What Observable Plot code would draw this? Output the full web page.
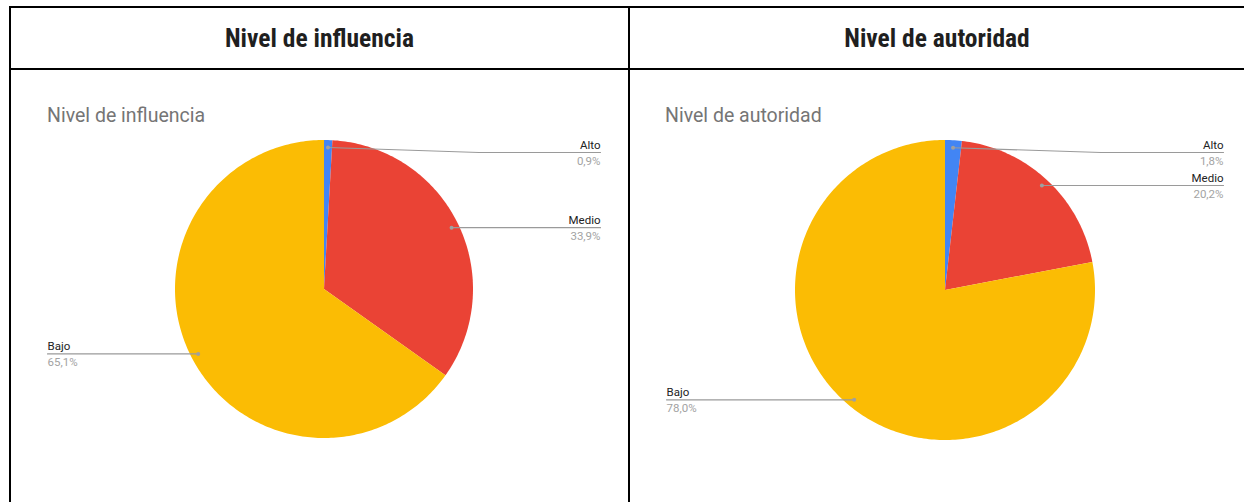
<!DOCTYPE html>
<html><head><meta charset="utf-8">
<script src="https://cdn.jsdelivr.net/npm/d3@7"></script>
<script src="https://cdn.jsdelivr.net/npm/@observablehq/plot@0.6"></script>
<style>
body{margin:0;background:#fff;width:1244px;height:502px;overflow:hidden;position:relative;font-family:Roboto,"Liberation Sans",sans-serif}
.rule{position:absolute;background:#000}
.head{position:absolute;top:8px;height:60px;display:flex;align-items:center;justify-content:center;font-family:"Liberation Sans Narrow","Roboto Condensed","Arial Narrow",sans-serif;font-stretch:condensed;font-weight:bold;font-size:25.5px;color:#1f1f1f}
.panel{position:absolute;top:70px;height:432px;overflow:hidden}
.ctitle{position:absolute;top:34px;font-size:19.5px;color:#757575;white-space:nowrap}
.panel svg{position:absolute;left:0;top:0;overflow:visible}
</style></head><body>
<script>
// ---- data ----
const categories = ["Alto", "Medio", "Bajo"];
const influencia = [0.9, 33.9, 65.1];
const autoridad = [1.8, 20.2, 78.0];
const headers = ["Nivel de influencia", "Nivel de autoridad"];
const chartTitles = ["Nivel de influencia", "Nivel de autoridad"];
const colors = ["#4285F4", "#EA4335", "#FBBC04"];

// ---- layout ----
const panels = [
  {left: 11, width: 617, cx: 312.5, cy: 218.5, r: 149, leftX: 36, rightX: 589, titleX: 36},
  {left: 631, width: 613, cx: 313.5, cy: 219.5, r: 150, leftX: 35, rightX: 592, titleX: 34}
];
const H = 432;

function rule(l, t, w, h) {
  const d = document.createElement("div");
  d.className = "rule";
  Object.assign(d.style, {left: l + "px", top: t + "px", width: w + "px", height: h + "px"});
  document.body.appendChild(d);
}
rule(9, 6, 1235, 2);
rule(9, 68, 1235, 2);
rule(9, 6, 2, 496);
rule(628, 6, 2, 496);

headers.forEach((h, i) => {
  const d = document.createElement("div");
  d.className = "head";
  d.style.left = (i === 0 ? 11 : 630) + "px";
  d.style.width = (i === 0 ? 617 : 614) + "px";
  d.textContent = h;
  document.body.appendChild(d);
});

const fmt = v => v.toFixed(1).replace(".", ",") + "%";

function build(values, g, title) {
  const total = d3.sum(values);
  const polys = [], dots = [], leaders = [], labels = [];
  let acc = 0;
  values.forEach((v, i) => {
    const cat = categories[i];
    const a0 = acc / total * 2 * Math.PI; acc += v;
    const a1 = acc / total * 2 * Math.PI;
    const n = Math.max(2, Math.ceil((a1 - a0) / (Math.PI / 180)));
    polys.push({x: g.cx, y: g.cy, cat});
    for (let k = 0; k <= n; k++) {
      const a = a0 + (a1 - a0) * k / n;
      polys.push({x: g.cx + g.r * Math.sin(a), y: g.cy - g.r * Math.cos(a), cat});
    }
    polys.push({x: g.cx, y: g.cy, cat});
    const am = (a0 + a1) / 2;
    const dx = g.cx + 0.95 * g.r * Math.sin(am);
    const dy = g.cy - 0.95 * g.r * Math.cos(am);
    const right = Math.sin(am) >= 0;
    const ly = Math.max(dy, g.cy - g.r + 12.5);
    const kx = g.cx + (right ? 1 : -1) * 1.04 * g.r;
    const ex = right ? g.rightX : g.leftX;
    dots.push({x: dx, y: dy});
    leaders.push({x: dx, y: dy, cat}, {x: kx, y: ly, cat}, {x: ex, y: ly, cat});
    labels.push({x: ex, y: ly, name: cat, pct: fmt(v), anchor: right ? "end" : "start"});
  });

  const plot = Plot.plot({
    width: g.width, height: H,
    margin: 0,
    x: {domain: [0, g.width], range: [0, g.width], axis: null},
    y: {domain: [0, H], range: [0, H], axis: null},
    color: {domain: categories, range: colors},
    style: {background: "transparent", fontFamily: "Roboto, sans-serif"},
    marks: [
      Plot.line(polys, {x: "x", y: "y", z: "cat", fill: "cat", stroke: "none"}),
      Plot.line(leaders, {x: "x", y: "y", z: "cat", stroke: "#9a9a9a", strokeWidth: 1.2}),
      Plot.dot(dots, {x: "x", y: "y", r: 2, fill: "#a0a0a0", stroke: "none"}),
      ...["start", "end"].map(a => Plot.text(labels.filter(d => d.anchor === a), {
        x: "x", y: "y", text: "name", textAnchor: a, frameAnchor: "middle", dy: -7.5,
        fill: "#222", fontSize: 11.5
      })),
      ...["start", "end"].map(a => Plot.text(labels.filter(d => d.anchor === a), {
        x: "x", y: "y", text: "pct", textAnchor: a, dy: 8.5,
        fill: "#a3a3a3", fontSize: 11.5
      }))
    ]
  });

  const p = document.createElement("div");
  p.className = "panel";
  p.style.left = g.left + "px";
  p.style.width = g.width + "px";
  const t = document.createElement("div");
  t.className = "ctitle";
  t.style.left = g.titleX + "px";
  t.textContent = title;
  p.appendChild(plot);
  p.appendChild(t);
  document.body.appendChild(p);
}

build(influencia, panels[0], chartTitles[0]);
build(autoridad, panels[1], chartTitles[1]);
</script>
</body></html>
